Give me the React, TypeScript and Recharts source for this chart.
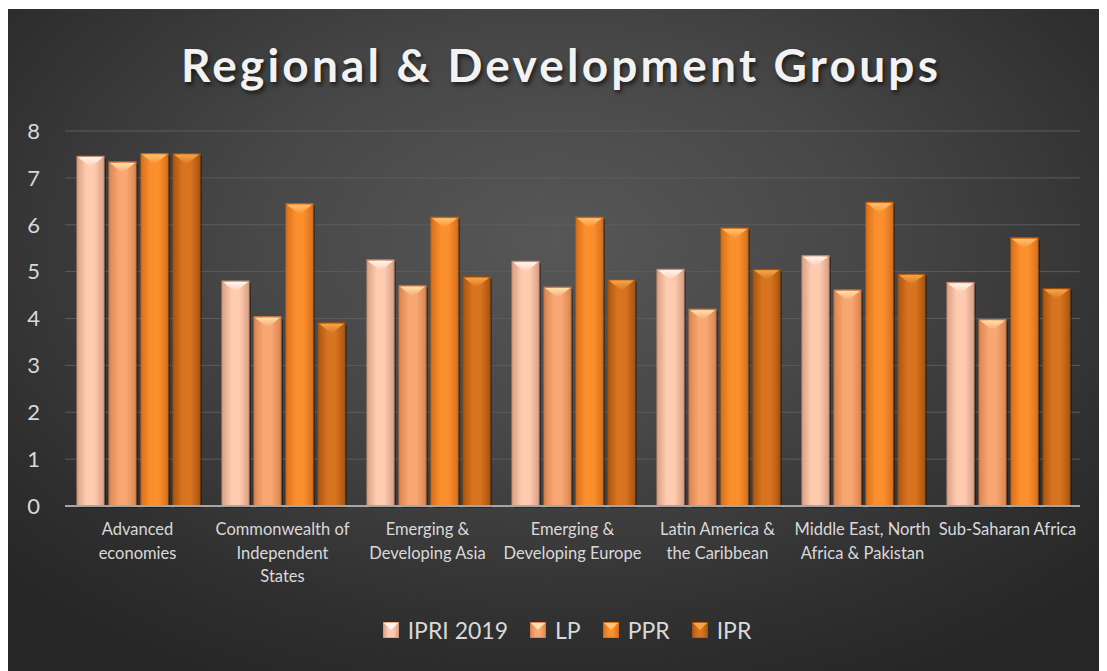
import React from 'react'
import { BarChart, Bar, XAxis, YAxis, CartesianGrid, Legend } from 'recharts'

const regions = [
  'Advanced economies',
  'Commonwealth of Independent States',
  'Emerging & Developing Asia',
  'Emerging & Developing Europe',
  'Latin America & the Caribbean',
  'Middle East, North Africa & Pakistan',
  'Sub-Saharan Africa',
]

// how each category label is broken into lines
const regionLines = [
  ['Advanced', 'economies'],
  ['Commonwealth of', 'Independent', 'States'],
  ['Emerging &', 'Developing Asia'],
  ['Emerging &', 'Developing Europe'],
  ['Latin America &', 'the Caribbean'],
  ['Middle East, North', 'Africa & Pakistan'],
  ['Sub-Saharan Africa'],
]

const ipri2019 = [7.46, 4.8, 5.25, 5.22, 5.05, 5.34, 4.77]
const lp = [7.34, 4.04, 4.7, 4.67, 4.2, 4.61, 3.98]
const ppr = [7.52, 6.45, 6.16, 6.16, 5.93, 6.48, 5.72]
const ipr = [7.52, 3.91, 4.89, 4.83, 5.05, 4.95, 4.64]

const yTicks = [0, 1, 2, 3, 4, 5, 6, 7, 8]

const series = [
  { key: 'IPRI 2019', values: ipri2019, edge: '#d9a084', mid: '#ffcbb0', tip: '#fff6ee', line: '#c98f72' },
  { key: 'LP', values: lp, edge: '#d9854f', mid: '#f8a672', tip: '#ffe0a8', line: '#c47740' },
  { key: 'PPR', values: ppr, edge: '#d9701a', mid: '#fb8f2e', tip: '#ffc272', line: '#c66412' },
  { key: 'IPR', values: ipr, edge: '#a9560f', mid: '#d87420', tip: '#f7a547', line: '#9a4c0c' },
]

const data = regions.map((name, i) => {
  const row: any = { name, idx: i }
  series.forEach(s => {
    row[s.key] = s.values[i]
  })
  return row
})

const FONT = 'Lato, "Open Sans", sans-serif'

const makeShape = (si: number) => (props: any) => {
  const { x, y, width, height } = props
  if (!height || height <= 0) return null
  const s = series[si]
  const tipH = width * 0.4
  return (
    <g>
      <rect x={x + 2} y={y + 2} width={width} height={height} fill="rgba(0,0,0,0.35)" />
      <rect x={x} y={y} width={width} height={height} fill={`url(#body-${si})`} stroke={s.line} strokeWidth={1} />
      <polygon
        points={`${x + 1},${y + 1} ${x + width - 1},${y + 1} ${x + width / 2},${y + tipH}`}
        fill={`url(#tip-${si})`}
      />
    </g>
  )
}

const RegionTick = (props: any) => {
  const { x, y, index } = props
  const lines = regionLines[index] || []
  return (
    <g transform={`translate(${x},${y})`}>
      {lines.map((l, i) => (
        <text
          key={i}
          x={0}
          y={i * 23.5}
          dy={21}
          textAnchor="middle"
          fill="#d9d9d9"
          fontSize={16.5}
          fontFamily={FONT}
        >
          {l}
        </text>
      ))}
    </g>
  )
}

const LegendContent = () => (
  <div style={{ display: 'flex', justifyContent: 'center', gap: 22, fontFamily: FONT, color: '#d9d9d9', fontSize: 23 }}>
    {series.map((s, i) => (
      <div key={s.key} style={{ display: 'flex', alignItems: 'center' }}>
        <svg width={16} height={16} style={{ marginRight: 9 }}>
          <rect x={0} y={0} width={16} height={16} fill={`url(#body-${i})`} stroke={s.line} />
          <polygon points="1,1 15,1 8,8" fill={s.tip} />
        </svg>
        <span>{s.key}</span>
      </div>
    ))}
  </div>
)

export default function App() {
  return (
    <div
      style={{
        position: 'relative',
        width: 1104,
        height: 662,
        margin: '1px 0 0 -5px',
        background: 'radial-gradient(ellipse 70% 75% at 50% 35%, #575757 0%, #474747 40%, #2f2f2f 80%, #262626 100%)',
        overflow: 'hidden',
      }}
    >
      <svg width={0} height={0} style={{ position: 'absolute' }}>
        <defs>
          {series.map((s, i) => (
            <React.Fragment key={i}>
              <linearGradient id={`body-${i}`} x1="0" y1="0" x2="1" y2="0">
                <stop offset="0%" stopColor={s.edge} />
                <stop offset="35%" stopColor={s.mid} />
                <stop offset="65%" stopColor={s.mid} />
                <stop offset="100%" stopColor={s.edge} />
              </linearGradient>
              <linearGradient id={`tip-${i}`} x1="0" y1="0" x2="0" y2="1">
                <stop offset="0%" stopColor={s.tip} />
                <stop offset="100%" stopColor={s.mid} />
              </linearGradient>
            </React.Fragment>
          ))}
        </defs>
      </svg>
      <div
        style={{
          position: 'absolute',
          top: 28,
          left: 6,
          width: 1104,
          textAlign: 'center',
          fontFamily: FONT,
          fontWeight: 700,
          fontSize: 46,
          letterSpacing: 3.2,
          color: '#f2f2f2',
          textShadow: '2px 3px 4px rgba(0,0,0,0.6)',
        }}
      >
        Regional &amp; Development Groups
      </div>
      <BarChart
        width={1104}
        height={662}
        data={data}
        margin={{ top: 122, right: 27, left: 0, bottom: 75 }}
        barCategoryGap={12}
        barGap={5}
      >
        <CartesianGrid vertical={false} stroke="#5c5c5c" strokeWidth={1} />
        <XAxis
          dataKey="name"
          interval={0}
          height={90}
          axisLine={{ stroke: '#a6a6a6', strokeWidth: 2 }}
          tickLine={false}
          tick={<RegionTick />}
        />
        <YAxis
          width={62}
          domain={[0, 8]}
          ticks={yTicks}
          axisLine={false}
          tickLine={false}
          tickSize={0}
          tickMargin={25}
          tick={{ fill: '#d9d9d9', fontSize: 22, fontFamily: FONT }}
        />
        <Legend
          verticalAlign="middle"
          align="center"
          content={<LegendContent />}
          wrapperStyle={{ top: 607, left: 12, width: 1104 }}
        />
        {series.map((s, i) => (
          <Bar key={s.key} dataKey={s.key} shape={makeShape(i)} isAnimationActive={false} />
        ))}
      </BarChart>
    </div>
  )
}
